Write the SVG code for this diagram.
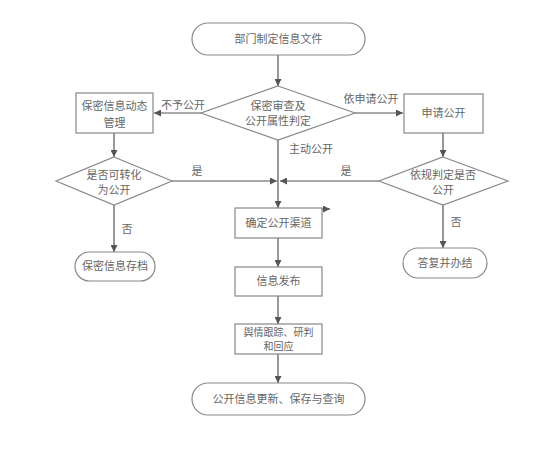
<svg xmlns="http://www.w3.org/2000/svg" width="547" height="468" viewBox="0 0 547 468">
<defs>
<marker id="ah" viewBox="0 0 10 10" refX="10" refY="5" markerWidth="7" markerHeight="7" markerUnits="userSpaceOnUse" orient="auto">
<path d="M0,0 L10,5 L0,10 z" fill="#555"/>
</marker>
<style>
.shape{fill:#fff;stroke:#888;stroke-width:1.2}
.t{font-family:"Noto Sans CJK SC","Noto Sans",sans-serif;font-size:11px;fill:#666;text-anchor:middle}
.s{font-size:10px}
.c{stroke:#555;stroke-width:1.2;fill:none;marker-end:url(#ah)}
</style>
</defs>
<rect width="547" height="468" fill="#fff"/>
<g id="connectors">
<line class="c" x1="278" y1="55" x2="278" y2="86"/>
<line class="c" x1="201" y1="113" x2="154" y2="113"/>
<line class="c" x1="355" y1="113" x2="403" y2="113"/>
<line class="c" x1="114" y1="133" x2="114" y2="157"/>
<line class="c" x1="443" y1="133" x2="443" y2="157"/>
<line class="c" x1="278" y1="140" x2="278" y2="208"/>
<line class="c" x1="172" y1="181" x2="277" y2="181"/>
<line class="c" x1="379" y1="181" x2="280" y2="181"/>
<line class="c" x1="114" y1="205" x2="114" y2="252"/>
<line class="c" x1="443" y1="205" x2="443" y2="248"/>
<line class="c" x1="318" y1="209" x2="330" y2="209"/>
<line class="c" x1="278" y1="238" x2="278" y2="267"/>
<line class="c" x1="278" y1="296" x2="278" y2="324"/>
<line class="c" x1="278" y1="354" x2="278" y2="383"/>
<text class="t" x="183" y="109">不予公开</text>
<text class="t" x="371" y="103">依申请公开</text>
<text class="t" x="311" y="153">主动公开</text>
<text class="t" x="197" y="175">是</text>
<text class="t" x="346" y="175">是</text>
<text class="t" x="127" y="233">否</text>
<text class="t" x="456" y="226">否</text>
</g>
<g id="start">
<rect class="shape" x="192" y="23" width="173" height="32" rx="16"/>
<text class="t" x="278.5" y="43">部门制定信息文件</text>
</g>
<g id="review">
<polygon class="shape" points="278,86 355,113 278,140 201,113"/>
<text class="t" x="278" y="110">保密审查及</text>
<text class="t" x="278" y="125">公开属性判定</text>
</g>
<g id="secret-manage">
<rect class="shape" x="76" y="93" width="77" height="40"/>
<text class="t" x="114.5" y="110">保密信息动态</text>
<text class="t" x="114.5" y="127">管理</text>
</g>
<g id="apply">
<rect class="shape" x="404" y="94" width="79" height="39"/>
<text class="t" x="443.5" y="117">申请公开</text>
</g>
<g id="convert">
<polygon class="shape" points="114,157 172,181 114,205 56,181"/>
<text class="t" x="114" y="179">是否可转化</text>
<text class="t" x="114" y="194">为公开</text>
</g>
<g id="judge">
<polygon class="shape" points="443,157 508,181 443,205 379,181"/>
<text class="t" x="443" y="179">依规判定是否</text>
<text class="t" x="443" y="194">公开</text>
</g>
<g id="archive">
<rect class="shape" x="75" y="252" width="80" height="29" rx="14.5"/>
<text class="t" x="115" y="270">保密信息存档</text>
</g>
<g id="reply">
<rect class="shape" x="403" y="248" width="84" height="30" rx="15"/>
<text class="t" x="445" y="267">答复并办结</text>
</g>
<g id="channel">
<rect class="shape" x="235" y="208" width="87" height="30"/>
<text class="t" x="278.5" y="227">确定公开渠道</text>
</g>
<g id="publish">
<rect class="shape" x="235" y="267" width="87" height="29"/>
<text class="t" x="278.5" y="285">信息发布</text>
</g>
<g id="opinion">
<rect class="shape" x="235" y="324" width="87" height="30"/>
<text class="t s" x="278.5" y="336">舆情跟踪、研判</text>
<text class="t s" x="278.5" y="350">和回应</text>
</g>
<g id="end">
<rect class="shape" x="192" y="383" width="173" height="32" rx="16"/>
<text class="t" x="278.5" y="403">公开信息更新、保存与查询</text>
</g>
</svg>
